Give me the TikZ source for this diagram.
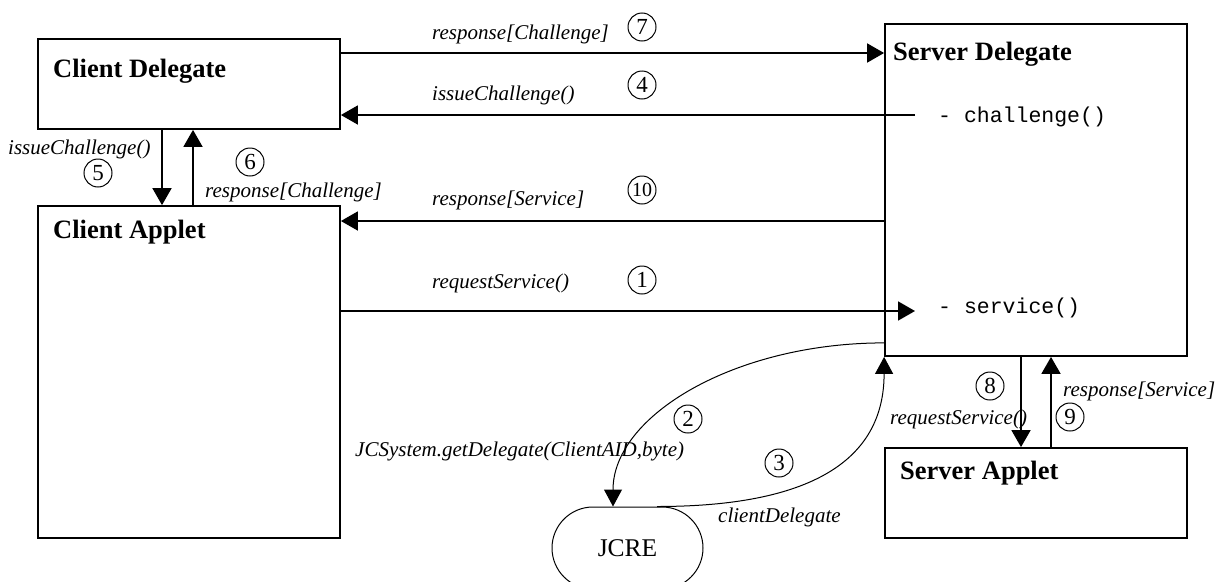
\documentclass[tikz,border=0pt]{standalone}
\usepackage{fontspec}
\setmainfont{Liberation Serif}
\setmonofont{Liberation Mono}
\usetikzlibrary{arrows.meta}

\begin{document}
\begin{tikzpicture}[x=1pt,y=-1pt,
  box/.style={draw,line width=1.8pt,inner sep=0pt,minimum width=302pt},
  ttl/.style={font=\fontsize{26.5}{30}\selectfont\bfseries,inner sep=0pt,anchor=base west},
  lab/.style={font=\fontsize{21}{25}\selectfont\itshape,inner sep=0pt,anchor=base west},
  mth/.style={font=\fontsize{21.5}{26}\selectfont\ttfamily,inner sep=0pt,anchor=west},
  num/.style={draw,circle,line width=1pt,minimum size=28pt,inner sep=0pt,font=\fontsize{23}{26}\selectfont},
  arr/.style={line width=1.8pt,-{Triangle[length=17pt,width=19pt]}},
  carr/.style={line width=1pt,-{Triangle[length=17pt,width=18pt]}}]

\useasboundingbox (0,0) rectangle (1225,581);

% components
\node[box,minimum height=90pt]  (cd) at (189,84)   {};
\node[box,minimum height=332pt] (ca) at (189,372)  {};
\node[box,minimum height=332pt] (sd) at (1036,190) {};
\node[box,minimum height=90pt]  (sa) at (1036,493) {};
\node[draw,line width=1pt,minimum width=151pt,minimum height=82pt,rounded corners=41pt,
      font=\fontsize{25.5}{28}\selectfont] (jcre) at (627.5,548) {JCRE};

% titles and methods
\node[ttl] (cdT) at (53,77)   {Client Delegate};
\node[ttl] (caT) at (53,238)  {Client Applet};
\node[ttl] (sdT) at (893,60)  {Server Delegate};
\node[ttl] (saT) at (900,479) {Server Applet};
\node[mth] (mChal) at (938,117) {- challenge()};
\node[mth] (mServ) at (938,308) {- service()};

% levels and columns of the straight connectors
\coordinate (y7)  at (0,53);
\coordinate (y10) at (0,221);
\coordinate (x5)  at (162,0);
\coordinate (x6)  at (193,0);
\coordinate (x8)  at (1021,0);
\coordinate (x9)  at (1051,0);

% messages between delegates and applets
\draw[arr] (cd.east |- y7) -- (sd.west |- y7);
\draw[arr] ([xshift=-23pt,yshift=2pt]mChal.west) -- ([yshift=2pt]cd.east |- mChal.west);
\draw[arr] (sd.west |- y10) -- (ca.east |- y10);
\draw[arr] ([yshift=-3pt]ca.east |- mServ.west) -- ([xshift=-23pt,yshift=-3pt]mServ.west);
\draw[arr] (cd.south -| x5) -- (ca.north -| x5);
\draw[arr] (ca.north -| x6) -- (cd.south -| x6);
\draw[arr] (sd.south -| x8) -- (sa.north -| x8);
\draw[arr] (sa.north -| x9) -- (sd.south -| x9);

% calls through the runtime
\draw[carr] ([yshift=14pt]sd.south west) .. controls +(-149,0) and +(0,-91) .. ([xshift=-14.5pt]jcre.north);
\draw[carr] ([xshift=29.5pt]jcre.north) .. controls +(153,0) and +(0,104) .. (sd.south west);

% message labels
\node[lab] (l7)  at (432,39)  {response[Challenge]};
\node[lab] (l4)  at (432,100) {issueChallenge()};
\node[lab] (l10) at (432,205) {response[Service]};
\node[lab] (l1)  at (432,288) {requestService()};
\node[lab] (l5)  at (8,154)   {issueChallenge()};
\node[lab] (l6)  at (205,197) {response[Challenge]};
\node[lab] (l2)  at (355,456) {JCSystem.getDelegate(ClientAID,byte)};
\node[lab] (l3)  at (718,522) {clientDelegate};
\node[lab] (l8)  at (890,424) {requestService()};
\node[lab] (l9)  at (1063,396) {response[Service]};

% step numbers
\node[num] (n1)  at (642,280) {1};
\node[num] (n2)  at (688,419) {2};
\node[num] (n3)  at (779,463) {3};
\node[num] (n4)  at (642,85)  {4};
\node[num] (n5)  at (98,173)  {5};
\node[num] (n6)  at (250,162) {6};
\node[num] (n7)  at (642,27)  {7};
\node[num] (n8)  at (990,386) {8};
\node[num] (n9)  at (1070,417) {9};
\node[num,font=\fontsize{20}{24}\selectfont] (n10) at (642,190) {10};

\end{tikzpicture}
\end{document}
